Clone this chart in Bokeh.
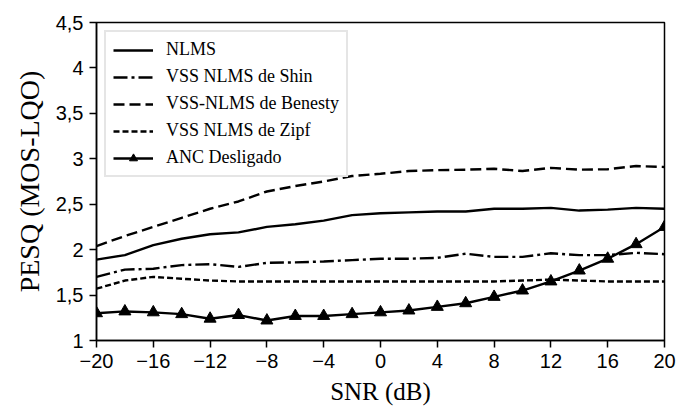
from bokeh.plotting import figure
from bokeh.models import Range1d, FixedTicker, Legend, LegendItem
from bokeh.embed import file_html
from bokeh.resources import INLINE

snr = [-20, -18, -16, -14, -12, -10, -8, -6, -4, -2, 0, 2, 4, 6, 8, 10, 12, 14, 16, 18, 20]
nlms = [1.89, 1.94, 2.05, 2.12, 2.17, 2.19, 2.25, 2.28, 2.32, 2.38, 2.40, 2.41, 2.42, 2.42, 2.45, 2.45, 2.46, 2.43, 2.44, 2.46, 2.45]
shin = [1.70, 1.78, 1.79, 1.83, 1.84, 1.81, 1.855, 1.86, 1.87, 1.885, 1.90, 1.90, 1.91, 1.955, 1.92, 1.92, 1.96, 1.94, 1.94, 1.965, 1.95]
benesty = [2.04, 2.15, 2.25, 2.35, 2.45, 2.53, 2.64, 2.70, 2.75, 2.81, 2.835, 2.865, 2.875, 2.88, 2.89, 2.865, 2.90, 2.88, 2.885, 2.92, 2.91]
zipf = [1.57, 1.66, 1.70, 1.68, 1.66, 1.65, 1.65, 1.65, 1.65, 1.65, 1.65, 1.65, 1.65, 1.65, 1.65, 1.66, 1.67, 1.66, 1.65, 1.65, 1.65]
anc = [1.30, 1.32, 1.31, 1.29, 1.24, 1.28, 1.22, 1.27, 1.27, 1.29, 1.31, 1.33, 1.37, 1.41, 1.48, 1.55, 1.65, 1.77, 1.90, 2.06, 2.25]

x_ticks = [-20, -16, -12, -8, -4, 0, 4, 8, 12, 16, 20]
x_tick_labels = ["\u221220", "\u221216", "\u221212", "\u22128", "\u22124", "0", "4", "8", "12", "16", "20"]
y_ticks = [1, 1.5, 2, 2.5, 3, 3.5, 4, 4.5]
y_tick_labels = ["1", "1,5", "2", "2,5", "3", "3,5", "4", "4,5"]

p = figure(width=677, height=411, output_backend="svg", toolbar_location=None,
           x_range=Range1d(-20, 20), y_range=Range1d(1, 4.5),
           min_border_left=96, min_border_right=13, min_border_top=22, min_border_bottom=71)
p.background_fill_color = "white"
p.border_fill_color = "white"
p.xgrid.visible = False
p.ygrid.visible = False
p.outline_line_color = "black"
p.outline_line_width = 1.5
p.outline_line_alpha = 1.0

for ax in (p.xaxis[0], p.yaxis[0]):
    ax.axis_line_width = 1.5
    ax.axis_line_color = "black"
    ax.major_tick_line_width = 1.5
    ax.major_tick_line_color = "black"
    ax.major_tick_out = 7
    ax.major_tick_in = 0
    ax.minor_tick_line_color = None
    ax.major_label_text_font = "Liberation Sans"
    ax.major_label_text_font_size = "20px"
    ax.major_label_text_color = "black"
    ax.axis_label_text_font = "Liberation Serif"
    ax.axis_label_text_font_style = "normal"
    ax.axis_label_text_color = "black"

p.xaxis.axis_label_text_font_size = "25px"
p.yaxis.axis_label_text_font_size = "28px"
p.xaxis.ticker = FixedTicker(ticks=x_ticks)
p.xaxis.major_label_overrides = {t: l for t, l in zip(x_ticks, x_tick_labels)}
p.yaxis.ticker = FixedTicker(ticks=y_ticks)
p.yaxis.major_label_overrides = {t: l for t, l in zip(y_ticks, y_tick_labels)}
p.xaxis.axis_label = "SNR (dB)"
p.yaxis.axis_label = "PESQ (MOS-LQO)"
p.xaxis.major_label_standoff = 6
p.yaxis.major_label_standoff = 6
p.xaxis.axis_label_standoff = 7
p.yaxis.axis_label_standoff = 8

r1 = p.line(snr, nlms, line_color="black", line_width=2.4)
r2 = p.line(snr, shin, line_color="black", line_width=2.4, line_dash="14 4 3 4")
r3 = p.line(snr, benesty, line_color="black", line_width=2.4, line_dash="11 5")
r4 = p.line(snr, zipf, line_color="black", line_width=2.4, line_dash="6 3")
r5 = p.line(snr, anc, line_color="black", line_width=2.4)
r5m = p.scatter(snr, anc, marker="triangle", size=12, fill_color="black", line_color="black")

legend = Legend(items=[
    LegendItem(label="NLMS", renderers=[r1]),
    LegendItem(label="VSS NLMS de Shin", renderers=[r2]),
    LegendItem(label="VSS-NLMS de Benesty", renderers=[r3]),
    LegendItem(label="VSS NLMS de Zipf", renderers=[r4]),
    LegendItem(label="ANC Desligado", renderers=[r5, r5m]),
], location="top_left")
legend.margin = 8
legend.padding = 7
legend.spacing = 6
legend.glyph_width = 40
legend.glyph_height = 20
legend.label_height = 20
legend.label_standoff = 13
legend.label_text_font = "Liberation Serif"
legend.label_text_font_size = "18px"
legend.label_text_color = "black"
legend.border_line_color = "#cccccc"
legend.border_line_width = 2
legend.background_fill_color = "white"
legend.background_fill_alpha = 1.0
p.add_layout(legend)

open("out.html", "w").write(file_html(p, INLINE))
